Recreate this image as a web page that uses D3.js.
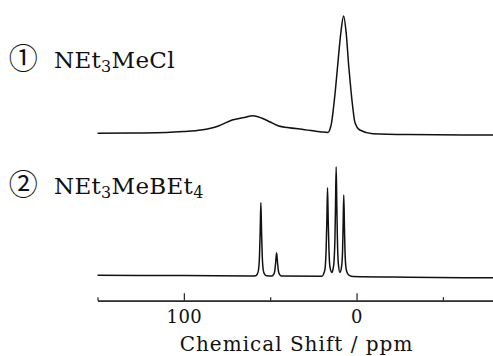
<!DOCTYPE html>
<html>
<head>
<meta charset="utf-8">
<script src="https://cdn.jsdelivr.net/npm/d3@7"></script>
<style>
  body { margin: 0; background: #fff; }
  svg { display: block; }
  .axis text { font-family: "DejaVu Serif", serif; font-size: 18px; fill: #111; letter-spacing: 0.5px; }
  .axis path, .axis line { stroke: #222; stroke-width: 1.2; }
</style>
</head>
<body>
<div id="chart"></div>
<script>
// spectrum 1 : NEt3MeCl  (ppm, intensity)
const spec1Ppm = [150, 130, 110, 100, 90, 80, 72, 65, 60, 55, 50, 45, 40, 30, 20, 16.5, 15.5, 14.5, 13.5, 12.3, 11, 9.1, 7.5, 6, 4.5, 3.2, 2, 1, -1.9, -9.4, -30, -80];
const spec1Int = [1.4, 1.7, 2.1, 2.9, 4.2, 7.6, 12.6, 14.7, 16.2, 14.3, 10.9, 7.6, 6.3, 4.5, 2.5, 2.2, 4.5, 10, 21, 37, 57.4, 85.7, 100, 85.7, 57.4, 37, 21, 11, 4.2, 1.1, 0.4, 0];

// spectrum 2 : NEt3MeBEt4
const spec2Ppm = [150, 100, 60, 58.5, 57.5, 56.8, 56.2, 55.8, 55.4, 55, 54.6, 54, 53.3, 52,
  49, 48, 47.4, 46.9, 46.3, 45.7, 45.2, 44.6, 43.5,
  20, 19, 18.2, 17.6, 17.2, 16.8, 16.4, 16, 15.4, 14.3,
  13.6, 13, 12.5, 12.2, 11.8, 11.4, 11.1, 10.6, 9.6,
  8.7, 8.1, 7.8, 7.4, 7, 6.7, 6.1, 5.2, 4, 2, -30, -80];
const spec2Int = [0.3, 0.2, -0.2, 0, 1.5, 5, 18, 40, 67, 40, 18, 5, 1.5, 0,
  -0.2, 1.2, 4, 11, 21.1, 11, 4, 1.2, -0.3,
  -0.5, 2, 7, 25, 50, 80.7, 50, 25, 8, 3,
  6, 14, 35, 62, 100, 62, 35, 12, 3,
  8, 22, 44, 74, 44, 23, 7, 2, 0, -0.8, -1.4, -2];

const majorTicks = [100, 0];
const minorTicks = [150, 50, -50];
const labels = [
  { num: '\u2460', parts: [['NEt', 0], ['3', 1], ['MeCl', 0]] },
  { num: '\u2461', parts: [['NEt', 0], ['3', 1], ['MeBEt', 0], ['4', 1]] }
];

const width = 493, height = 356;
const svg = d3.select('#chart').append('svg')
  .attr('width', width)
  .attr('height', height);

const x = d3.scaleLinear().domain([150, -80]).range([97.5, 494.7]);
const y1 = d3.scaleLinear().domain([0, 100]).range([135, 16]);
const y2 = d3.scaleLinear().domain([0, 100]).range([275.7, 166.7]);

function drawSpec(ppm, inten, y) {
  const pts = ppm.map((p, i) => [p, inten[i]]);
  const line = d3.line()
    .x(d => x(d[0]))
    .y(d => y(d[1]))
    .curve(d3.curveMonotoneX);
  svg.append('path')
    .datum(pts)
    .attr('d', line)
    .attr('fill', 'none')
    .attr('stroke', '#111')
    .attr('stroke-width', 1.5)
    .attr('stroke-linejoin', 'round');
}
drawSpec(spec1Ppm, spec1Int, y1);
drawSpec(spec2Ppm, spec2Int, y2);

// axis
const axisY = 300.7;
svg.append('g')
  .attr('class', 'axis')
  .attr('transform', `translate(0,${axisY})`)
  .call(d3.axisBottom(x).tickValues(minorTicks).tickSize(-3.5).tickSizeOuter(0).tickFormat(''));
svg.append('g')
  .attr('class', 'axis')
  .attr('transform', `translate(0,${axisY})`)
  .call(d3.axisBottom(x).tickValues(majorTicks).tickSize(-7.5).tickSizeOuter(0).tickPadding(9.5));

svg.append('text')
  .attr('x', 296.5)
  .attr('y', 351)
  .attr('text-anchor', 'middle')
  .style('font-family', '"DejaVu Serif", serif')
  .style('font-size', '20px')
  .style('letter-spacing', '1px')
  .style('fill', '#111')
  .text('Chemical Shift / ppm');

// sample labels
const labelY = [68.3, 194.3];
labels.forEach((lab, i) => {
  svg.append('text')
    .attr('x', 23.3)
    .attr('y', labelY[i] + 1)
    .attr('text-anchor', 'middle')
    .style('font-family', '"Noto Sans CJK JP", sans-serif')
    .style('font-size', '29px')
    .style('fill', '#111')
    .text(lab.num);
  const t = svg.append('text')
    .attr('x', 54)
    .attr('y', labelY[i])
    .style('font-family', '"DejaVu Serif", serif')
    .style('font-size', '23px')
    .style('letter-spacing', '0.3px')
    .style('fill', '#111');
  let prevSub = 0;
  lab.parts.forEach(([s, sub]) => {
    t.append('tspan')
      .attr('dy', sub === prevSub ? 0 : (sub ? 4 : -4))
      .style('font-size', sub ? '16px' : '23px')
      .text(s);
    prevSub = sub;
  });
});
</script>
</body>
</html>
